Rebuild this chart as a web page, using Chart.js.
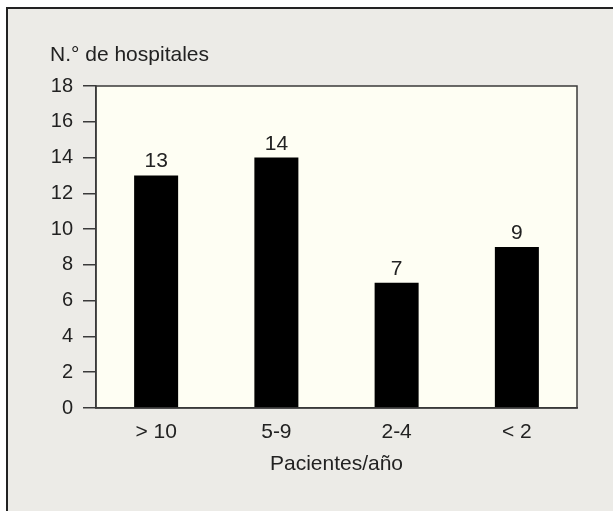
<!DOCTYPE html>
<html>
<head>
<meta charset="utf-8">
<script src="https://cdn.jsdelivr.net/npm/chart.js@4.4.0/dist/chart.umd.min.js"></script>
<style>
  html, body { margin: 0; padding: 0; background: #ffffff; }
  canvas { display: block; }
</style>
</head>
<body>
<canvas id="chart" width="613" height="511"></canvas>
<script>
const categories = ['> 10', '5-9', '2-4', '< 2'];
const values = [13, 14, 7, 9];
const yTicks = [0, 2, 4, 6, 8, 10, 12, 14, 16, 18];
const yTitle = 'N.° de hospitales';
const xTitle = 'Pacientes/año';

const FONT = "'Liberation Sans', Arial, Helvetica, sans-serif";
const TEXT = '#222222';

// frame, plot background, value labels and top-left title
const decor = {
    id: 'decor',
    beforeDraw(chart) {
        const ctx = chart.ctx;
        const a = chart.chartArea;
        ctx.save();
        ctx.fillStyle = '#ffffff';
        ctx.fillRect(0, 0, chart.width, chart.height);
        ctx.fillStyle = '#ecebe7';
        ctx.fillRect(7, 8, chart.width - 7, chart.height - 8);
        ctx.strokeStyle = '#222222';
        ctx.lineWidth = 2;
        ctx.beginPath();
        ctx.moveTo(7, chart.height);
        ctx.lineTo(7, 8);
        ctx.lineTo(chart.width, 8);
        ctx.stroke();
        ctx.fillStyle = '#fefef3';
        ctx.fillRect(a.left, a.top, a.right - a.left, a.bottom - a.top);
        ctx.restore();
    },
    afterDraw(chart) {
        const ctx = chart.ctx;
        const a = chart.chartArea;
        ctx.save();
        ctx.strokeStyle = '#3a3a3a';
        ctx.lineWidth = 1.5;
        ctx.strokeRect(a.left, a.top, a.right - a.left, a.bottom - a.top);

        ctx.fillStyle = TEXT;
        ctx.font = '21px ' + FONT;
        ctx.textAlign = 'left';
        ctx.textBaseline = 'alphabetic';
        ctx.fillText(yTitle, 50, 61);

        ctx.textAlign = 'center';
        const meta = chart.getDatasetMeta(0);
        meta.data.forEach((bar, i) => {
            ctx.fillText(String(values[i]), bar.x, bar.y - 8);
        });
        ctx.restore();
    }
};

const ctx = document.getElementById('chart').getContext('2d');
const chart = new Chart(ctx, {
    type: 'bar',
    data: {
        labels: categories,
        datasets: [{
            data: values,
            backgroundColor: '#000000',
            borderWidth: 0,
            barPercentage: 0.366,
            categoryPercentage: 1
        }]
    },
    options: {
        responsive: false,
        animation: false,
        layout: { padding: { top: 86, right: 36, left: 0, bottom: 0 } },
        plugins: {
            legend: { display: false },
            tooltip: { enabled: false }
        },
        scales: {
            x: {
                afterFit(scale) { scale.height = 103; },
                grid: { display: false, drawTicks: false },
                border: { display: true, color: '#3a3a3a', width: 1.5 },
                ticks: { color: TEXT, padding: 12, font: { family: FONT, size: 21 } },
                title: {
                    display: true,
                    text: xTitle,
                    color: TEXT,
                    padding: { top: 0, bottom: 34 },
                    font: { family: FONT, size: 21 }
                }
            },
            y: {
                min: 0,
                max: 18,
                afterFit(scale) { scale.width = 96; },
                afterBuildTicks(scale) { scale.ticks = yTicks.map(v => ({ value: v })); },
                grid: {
                    drawOnChartArea: false,
                    drawTicks: true,
                    tickLength: 13,
                    color: '#3a3a3a',
                    lineWidth: 1.5
                },
                border: { display: true, color: '#3a3a3a', width: 1.5 },
                ticks: { color: TEXT, padding: 10, font: { family: FONT, size: 20 } }
            }
        }
    },
    plugins: [decor]
});
</script>
</body>
</html>
